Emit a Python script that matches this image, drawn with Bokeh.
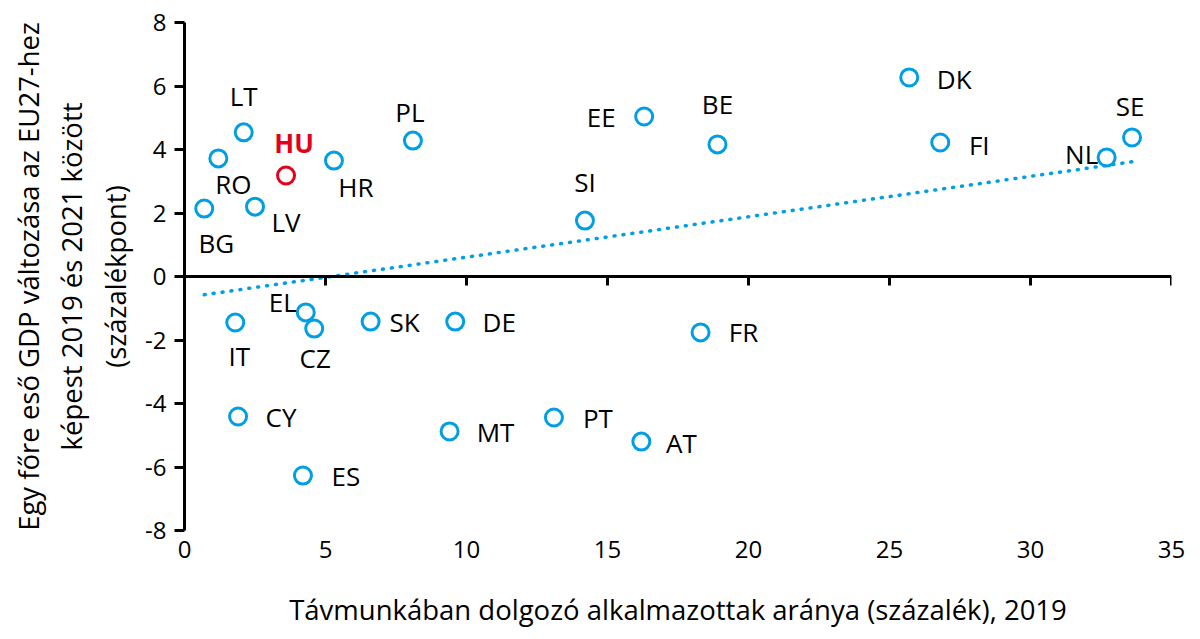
import numpy as np
from bokeh.plotting import figure
from bokeh.models import ColumnDataSource, LinearAxis, FixedTicker, PrintfTickFormatter
from bokeh.core.properties import value
from bokeh.embed import file_html
from bokeh.resources import INLINE

countries = ["BG", "RO", "LT", "LV", "HU", "HR", "PL", "EE", "BE", "SI", "DK", "FI", "NL", "SE",
             "IT", "EL", "CZ", "SK", "DE", "FR", "CY", "MT", "PT", "AT", "ES"]
telework = [0.7, 1.2, 2.1, 2.5, 3.6, 5.3, 8.1, 16.3, 18.9, 14.2, 25.7, 26.8, 32.7, 33.6,
            1.8, 4.3, 4.6, 6.6, 9.6, 18.3, 1.9, 9.4, 13.1, 16.2, 4.2]
gdp_change = [2.14, 3.72, 4.54, 2.2, 3.18, 3.65, 4.28, 5.04, 4.16, 1.76, 6.27, 4.22, 3.75, 4.38,
              -1.45, -1.13, -1.64, -1.42, -1.42, -1.76, -4.41, -4.88, -4.44, -5.2, -6.27]
x_ticks = [0, 5, 10, 15, 20, 25, 30, 35]
y_ticks = [-8, -6, -4, -2, 0, 2, 4, 6, 8]

# label placement (screen pixels, y downward)
label_dx = [12, 15, 0, 31, 8, 22, -3, -43, 0, 0, 45, 39, -25, -2,
            4, -23, 1, 34, 44, 43, 43, 46, 44, 40, 43]
label_dy = [34, 26, -36, 15, -33, 26, -29, 1, -40, -39, 2, 2, -3, -31,
            33, -10, 29, 0, 0, 0, 0, 1, 1, 1, 0]

BLUE = "#009FE3"
RED = "#E2001A"
FONT = "Open Sans"

colors = [RED if c == "HU" else BLUE for c in countries]
src = ColumnDataSource(dict(x=telework, y=gdp_change, c=countries, col=colors,
                            dx=label_dx, dy=label_dy))
hu = [i for i, c in enumerate(countries) if c == "HU"]
oth = [i for i, c in enumerate(countries) if c != "HU"]
src_o = ColumnDataSource({k: [v[i] for i in oth] for k, v in src.data.items()})
src_h = ColumnDataSource({k: [v[i] for i in hu] for k, v in src.data.items()})

p = figure(frame_width=987, frame_height=508, output_backend="svg", toolbar_location=None,
           x_range=(0, 35), y_range=(-8, 8), x_axis_location=None,
           min_border_left=184, min_border_right=18, min_border_top=22, min_border_bottom=90)
p.outline_line_color = None
p.grid.visible = False
p.background_fill_color = "white"

# trend line (least squares)
xs = np.array(telework)
ys = np.array(gdp_change)
k, b = np.polyfit(xs, ys, 1)
tx = np.array([xs.min(), xs.max()])
p.line(tx, k * tx + b, line_color=BLUE, line_width=3.5, line_dash="1 8", line_cap="round")

p.scatter("x", "y", source=src, marker="circle", size=17, fill_alpha=0,
          line_color="col", line_width=3)

p.text("x", "y", text="c", source=src_o, x_offset="dx", y_offset="dy",
       text_align="center", text_baseline="middle", text_font=value(FONT),
       text_font_size="26px", text_color="black")
p.text("x", "y", text="c", source=src_h, x_offset="dx", y_offset="dy",
       text_align="center", text_baseline="middle", text_font=value(FONT),
       text_font_size="26px", text_color=RED, text_font_style="bold")

# y axis
ya = p.yaxis[0]
ya.ticker = FixedTicker(ticks=y_ticks)
ya.formatter = PrintfTickFormatter(format="%d")
ya.axis_line_width = 3
ya.axis_line_color = "black"
ya.major_tick_line_width = 3
ya.major_tick_out = 10
ya.major_tick_in = 0
ya.minor_tick_line_color = None
ya.major_label_text_font = FONT
ya.major_label_text_font_size = "24px"
ya.major_label_text_color = "black"
ya.major_label_standoff = 8
ya.axis_label = "Egy főre eső GDP változása az EU27-hez\nképest 2019 és 2021 között\n(százalékpont)"
ya.axis_label_text_font = FONT
ya.axis_label_text_font_size = "27.5px"
ya.axis_label_text_font_style = "normal"
ya.axis_label_text_color = "black"
ya.axis_label_standoff = 8
ya.axis_label_text_line_height = 1.18

# bottom labels axis (no line)
xb = LinearAxis(ticker=FixedTicker(ticks=x_ticks))
xb.axis_line_color = None
xb.major_tick_line_color = None
xb.minor_tick_line_color = None
xb.major_label_text_font = FONT
xb.major_label_text_font_size = "24px"
xb.major_label_text_color = "black"
xb.major_label_standoff = 4
xb.axis_label = "Távmunkában dolgozó alkalmazottak aránya (százalék), 2019"
xb.axis_label_text_font = FONT
xb.axis_label_text_font_size = "27.5px"
xb.axis_label_text_font_style = "normal"
xb.axis_label_text_color = "black"
xb.axis_label_standoff = 30
p.add_layout(xb, "below")

# axis line at y = 0 with ticks downward
x0 = LinearAxis(ticker=FixedTicker(ticks=x_ticks), fixed_location=0)
x0.axis_line_width = 3
x0.axis_line_color = "black"
x0.major_tick_line_width = 3
x0.major_tick_in = 9
x0.major_tick_out = 0
x0.minor_tick_line_color = None
x0.major_label_overrides = {t: "" for t in x_ticks}
x0.major_label_standoff = 0
p.add_layout(x0, "above")

open("out.html", "w").write(file_html(p, INLINE))
